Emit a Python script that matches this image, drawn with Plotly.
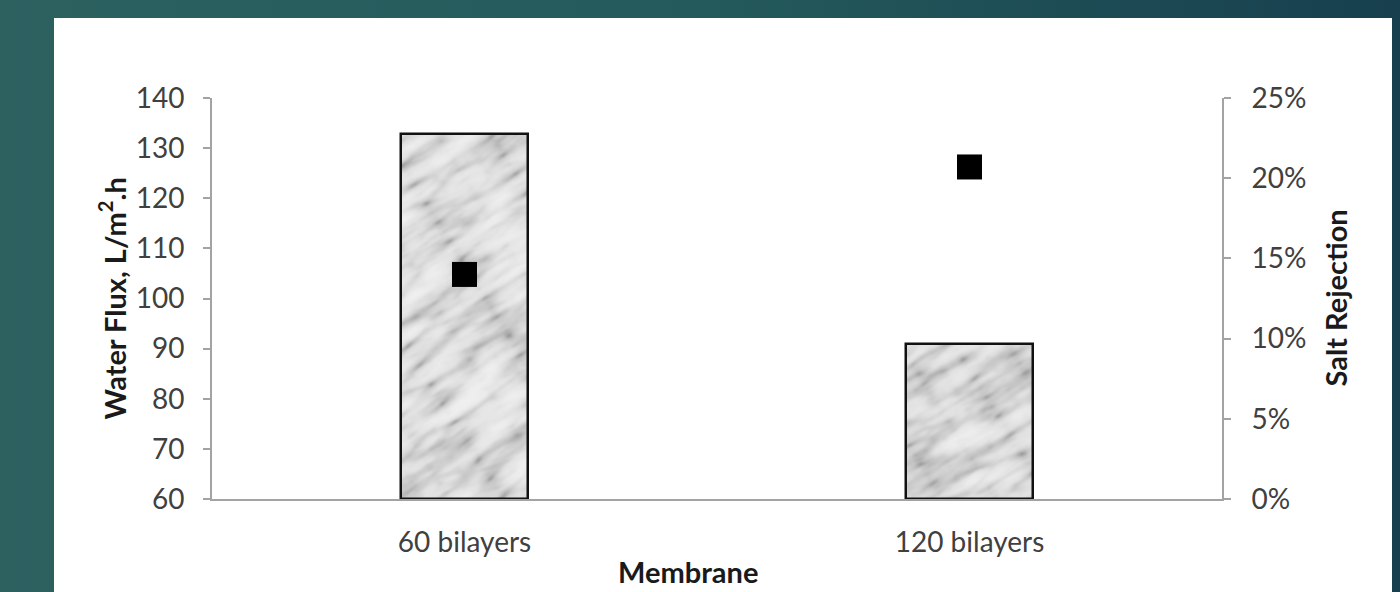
import base64
import plotly.graph_objects as go

# Membrane performance: water flux (bars, left axis) and salt rejection (squares, right axis)
membranes = ["60 bilayers", "120 bilayers"]
water_flux = [132.8, 91.0]        # L/m².h
salt_rejection = [0.140, 0.207]   # fraction rejected

flux_ticks = [60, 70, 80, 90, 100, 110, 120, 130, 140]
rejection_ticks = [0.0, 0.05, 0.10, 0.15, 0.20, 0.25]

W, H = 1400, 592
ML, MR, MT, MB = 212, 178, 98, 93
PW, PH = W - ML - MR, H - MT - MB
FLUX_MIN, FLUX_MAX = 60, 140
BAR_W = 0.25

FONT = "Lato, 'Open Sans', sans-serif"
TICK_COLOR = "#404040"
AXIS_COLOR = "#a3a3a3"


def svg_uri(svg):
    return "data:image/svg+xml;base64," + base64.b64encode(svg.encode()).decode()


# Slide backdrop: teal gradient with a white card behind the chart
backdrop = f"""<svg xmlns="http://www.w3.org/2000/svg" width="{W}" height="{H}" viewBox="0 0 {W} {H}" preserveAspectRatio="none">
<defs><linearGradient id="g" x1="0" y1="0" x2="1" y2="0">
<stop offset="0" stop-color="#2c6160"/><stop offset="0.5" stop-color="#245a5c"/><stop offset="1" stop-color="#173f4e"/>
</linearGradient></defs>
<rect width="{W}" height="{H}" fill="url(#g)"/>
<rect x="54" y="18" width="1338" height="{H}" fill="#ffffff"/>
</svg>"""


def marble(seed, w, h):
    # streaky grey veins on a pale ground, tilted like polished stone
    table = "0.52 0.76 0.88 0.93 0.95 0.96 0.97"
    big = 3 * max(w, h)
    return f"""<svg xmlns="http://www.w3.org/2000/svg" width="{w}" height="{h}" viewBox="0 0 {w} {h}" preserveAspectRatio="none">
<defs>
<clipPath id="c"><rect width="{w}" height="{h}"/></clipPath>
<filter id="m" filterUnits="userSpaceOnUse" x="{-big}" y="{-big}" width="{2 * big}" height="{2 * big}" color-interpolation-filters="sRGB">
<feTurbulence type="turbulence" baseFrequency="0.011 0.045" numOctaves="4" seed="{seed}"/>
<feColorMatrix type="matrix" values="0.33 0.33 0.33 0 0  0.33 0.33 0.33 0 0  0.33 0.33 0.33 0 0  0 0 0 0 1"/>
<feComponentTransfer>
<feFuncR type="table" tableValues="{table}"/><feFuncG type="table" tableValues="{table}"/><feFuncB type="table" tableValues="{table}"/>
</feComponentTransfer>
<feGaussianBlur stdDeviation="0.9"/>
</filter>
</defs>
<g clip-path="url(#c)">
<g transform="rotate(-32 {w / 2} {h / 2})">
<rect x="{-big}" y="{-big}" width="{2 * big}" height="{2 * big}" filter="url(#m)"/>
</g>
</g>
</svg>"""


images = [dict(
    source=svg_uri(backdrop), xref="paper", yref="paper",
    x=-ML / PW, y=1 + MT / PH, sizex=W / PW, sizey=H / PH,
    xanchor="left", yanchor="top", sizing="stretch", layer="below",
)]

# Marble texture under each (transparent) bar, sized from the bar's own value
for i, flux in enumerate(water_flux):
    px_w = int(BAR_W * PW / 2)
    px_h = int((flux - FLUX_MIN) / (FLUX_MAX - FLUX_MIN) * PH)
    images.append(dict(
        source=svg_uri(marble(11 + 6 * i, px_w, px_h)), xref="x", yref="y",
        x=i - BAR_W / 2, y=flux, sizex=BAR_W, sizey=flux - FLUX_MIN,
        xanchor="left", yanchor="top", sizing="stretch", layer="below",
    ))

fig = go.Figure()
fig.add_trace(go.Bar(
    x=membranes, y=[f - FLUX_MIN for f in water_flux], base=FLUX_MIN,
    width=BAR_W, marker=dict(color="rgba(0,0,0,0)", line=dict(color="#111111", width=2.5)),
    name="Water Flux", showlegend=False,
))
fig.add_trace(go.Scatter(
    x=membranes, y=salt_rejection, yaxis="y2", mode="markers",
    marker=dict(symbol="square", size=25, color="#000000"),
    name="Salt Rejection", showlegend=False,
))

tick_font = dict(family=FONT, size=28, color=TICK_COLOR)
title_font = dict(family=FONT, size=29, color="#1a1a1a")

fig.update_layout(
    width=W, height=H,
    margin=dict(l=ML, r=MR, t=MT, b=MB, autoexpand=False),
    paper_bgcolor="rgba(0,0,0,0)", plot_bgcolor="rgba(0,0,0,0)",
    images=images,
    bargap=0,
    xaxis=dict(
        type="category", range=[-0.5, 1.5], showline=True, linecolor=AXIS_COLOR, linewidth=2,
        ticks="", showgrid=False, zeroline=False, tickfont=tick_font, ticklabelstandoff=17,
    ),
    yaxis=dict(
        range=[FLUX_MIN, FLUX_MAX], tickvals=flux_ticks, showline=True, linecolor=AXIS_COLOR,
        linewidth=2, ticks="outside", ticklen=7, tickwidth=2, tickcolor=AXIS_COLOR,
        showgrid=False, zeroline=False, tickfont=tick_font, ticklabelstandoff=13,
    ),
    yaxis2=dict(
        overlaying="y", side="right", range=[0, 0.25], tickvals=rejection_ticks,
        tickformat=".0%", showline=True, linecolor=AXIS_COLOR, linewidth=2,
        ticks="outside", ticklen=7, tickwidth=2, tickcolor=AXIS_COLOR,
        showgrid=False, zeroline=False, tickfont=tick_font, ticklabelstandoff=15,
    ),
    annotations=[
        dict(text="<b>Water Flux, L/m<sup>2</sup>.h</b>", xref="paper", yref="paper",
             x=-100 / PW, y=0.5, textangle=-90, showarrow=False, font=title_font,
             xanchor="center", yanchor="middle"),
        dict(text="<b>Salt Rejection</b>", xref="paper", yref="paper",
             x=(1335 - ML) / PW, y=0.5, textangle=-90, showarrow=False, font=title_font,
             xanchor="center", yanchor="middle"),
        dict(text="<b>Membrane</b>", xref="paper", yref="paper",
             x=(688 - ML) / PW, y=-(591 - (H - MB)) / PH, showarrow=False, font=title_font,
             xanchor="center", yanchor="bottom"),
    ],
)

fig.write_html("out.html")
